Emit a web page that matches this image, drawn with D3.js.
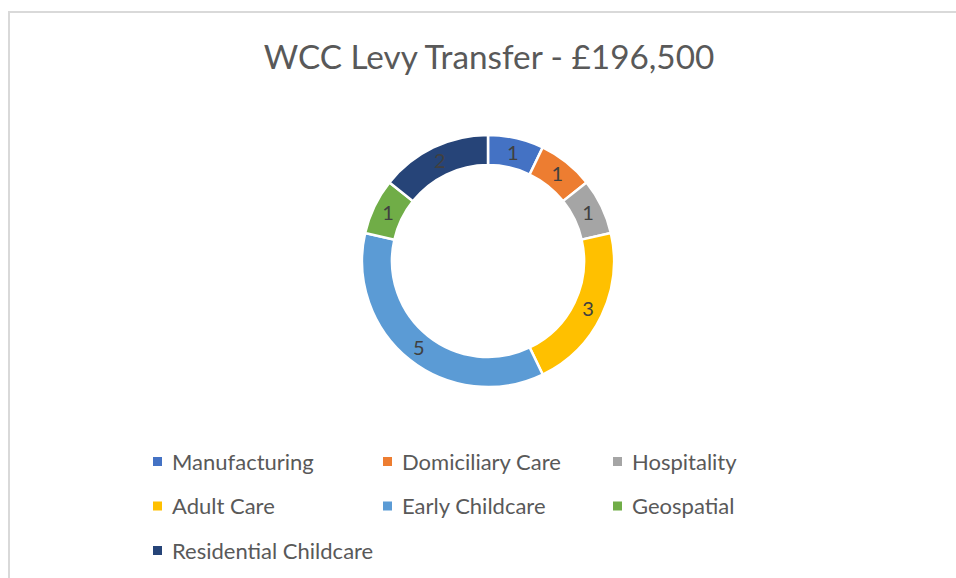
<!DOCTYPE html>
<html>
<head>
<meta charset="utf-8">
<script src="https://cdn.jsdelivr.net/npm/d3@7"></script>
<style>
  body { margin: 0; background: #fff; }
  text { font-family: Lato, "Open Sans", sans-serif; }
</style>
</head>
<body>
<div id="chart"></div>
<script>
// Chart data
const categories = ["Manufacturing", "Domiciliary Care", "Hospitality", "Adult Care",
                    "Early Childcare", "Geospatial", "Residential Childcare"];
const values = [1, 1, 1, 3, 5, 1, 2];
const colours = ["#4472C4", "#ED7D31", "#A5A5A5", "#FFC000", "#5B9BD5", "#70AD47", "#264478"];
const title = "WCC Levy Transfer - £196,500";

const data = categories.map((c, i) => ({ name: c, value: values[i] }));

function draw() {
    const width = 956, height = 578;

    const svg = d3.select("#chart")
                  .append("svg")
                  .attr("width", width)
                  .attr("height", height);

    // chart area border
    svg.append("rect")
       .attr("x", 9).attr("y", 12)
       .attr("width", width).attr("height", height)
       .attr("fill", "none")
       .attr("stroke", "#d9d9d9")
       .attr("stroke-width", 2);

    // Title
    svg.append("text")
       .attr("x", 489).attr("y", 69)
       .attr("text-anchor", "middle")
       .attr("fill", "#595959")
       .attr("font-size", 33.3)
       .text(title);

    // Donut
    const cx = 488, cy = 261, outerR = 126, innerR = 96;
    const color = d3.scaleOrdinal().domain(categories).range(colours);

    const pie = d3.pie().value(d => d.value).sort(null);
    const arc = d3.arc().innerRadius(innerR).outerRadius(outerR);

    const g = svg.append("g").attr("transform", `translate(${cx},${cy})`);

    g.selectAll("path")
     .data(pie(data))
     .enter().append("path")
       .attr("d", arc)
       .attr("fill", d => color(d.data.name))
       .attr("stroke", "#fff")
       .attr("stroke-width", 2.5);

    g.selectAll("text")
     .data(pie(data))
     .enter().append("text")
       .attr("transform", d => `translate(${arc.centroid(d)})`)
       .attr("text-anchor", "middle")
       .attr("dy", "0.36em")
       .attr("fill", "#404040")
       .attr("font-size", 20)
       .text(d => d.data.value);

    // Legend: 3 columns
    const legend = svg.append("g");
    const cols = 3, colW = 230, rowH = 44.5, lx = 153, ly = 462;
    const item = legend.selectAll("g")
        .data(categories)
        .enter().append("g")
          .attr("transform", (d, i) => `translate(${lx + (i % cols) * colW},${ly + Math.floor(i / cols) * rowH})`);
    item.append("rect")
        .attr("x", 0).attr("y", -5)
        .attr("width", 9).attr("height", 9)
        .attr("fill", d => color(d));
    item.append("text")
        .attr("x", 19).attr("dy", "0.36em")
        .attr("fill", "#595959")
        .attr("font-size", 22)
        .text(d => d);
}

draw();
</script>
</body>
</html>
